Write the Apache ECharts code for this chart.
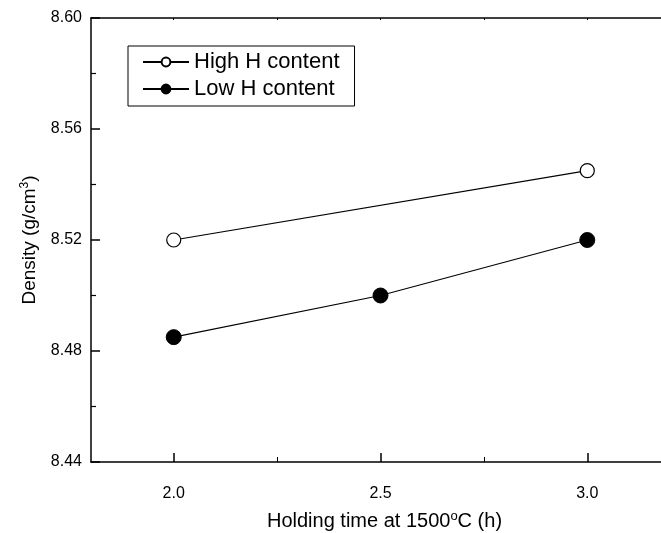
<!DOCTYPE html>
<html>
<head>
<meta charset="utf-8">
<script src="https://cdn.jsdelivr.net/npm/echarts@6/dist/echarts.min.js"></script>
<style>html,body{margin:0;padding:0;background:#fff;}#c{width:661px;height:533px;}</style>
</head>
<body>
<div id="c"></div>
<script>
var xMajorTicks = [2.0, 2.5, 3.0];
var xMinorTicks = [2.25, 2.75];
var highX = [2.0, 3.0];
var highY = [8.52, 8.545];
var lowX = [2.0, 2.5, 3.0];
var lowY = [8.485, 8.50, 8.52];
var seriesNames = ['High H content', 'Low H content'];

var chart = echarts.init(document.getElementById('c'), null, {renderer: 'canvas'});
var FONT = '"Liberation Sans", Arial, sans-serif';
function pairs(xs, ys) { return xs.map(function (x, i) { return [x, ys[i]]; }); }
var axisLine = {show: true, lineStyle: {color: '#000', width: 1.5}};

var option = {
  backgroundColor: '#fff',
  animation: false,
  grid: {left: 91, top: 18, bottom: 71, width: 579, containLabel: false, outerBoundsMode: 'none'},
  legend: {
    left: 128, top: 46,
    orient: 'vertical',
    data: seriesNames,
    itemWidth: 46, itemHeight: 11, itemGap: 5,
    padding: [5, 15, 6, 14],
    borderColor: '#000', borderWidth: 1,
    textStyle: {fontFamily: FONT, fontSize: 22, color: '#000'},
    inactiveColor: '#000'
  },
  xAxis: [
    {
      type: 'value', position: 'bottom', min: 1.8, max: 3.2,
      axisLine: axisLine,
      axisTick: {show: true, inside: true, length: 9, lineStyle: {color: '#000', width: 1.5}, customValues: xMajorTicks},
      axisLabel: {show: true, customValues: xMajorTicks, margin: 24, fontFamily: FONT, fontSize: 16, color: '#000',
        formatter: function (v) { return v.toFixed(1); }},
      splitLine: {show: false},
      name: 'Holding time at 1500{sup|o}C (h)', nameLocation: 'middle', nameGap: 48,
      nameTextStyle: {fontFamily: FONT, fontSize: 20, color: '#000', padding: [0, 0, 0, 8],
        rich: {sup: {fontFamily: FONT, fontSize: 13, color: '#000', verticalAlign: 'top', padding: [0, 0, 9, 0]}}}
    },
    {
      type: 'value', position: 'bottom', min: 1.8, max: 3.2,
      axisLine: {show: false},
      axisTick: {show: true, inside: true, length: 5, lineStyle: {color: '#000', width: 1}, customValues: xMinorTicks},
      axisLabel: {show: false}, splitLine: {show: false}
    },
    {
      type: 'value', position: 'top', min: 1.8, max: 3.2,
      axisLine: axisLine,
      axisTick: {show: true, inside: true, length: 2, lineStyle: {color: '#000', width: 1}, customValues: xMajorTicks.concat(xMinorTicks)},
      axisLabel: {show: false}, splitLine: {show: false}
    }
  ],
  yAxis: [
    {
      type: 'value', min: 8.44, max: 8.60, interval: 0.04,
      axisLine: axisLine,
      axisTick: {show: true, inside: true, length: 9, lineStyle: {color: '#000', width: 1.5}},
      minorTick: {show: true, splitNumber: 2, length: 5, lineStyle: {color: '#000', width: 1.2}},
      axisLabel: {margin: 9, fontFamily: FONT, fontSize: 16, color: '#000', formatter: function (v) { return v.toFixed(2); }},
      splitLine: {show: false},
      name: 'Density (g/cm{sup|3})', nameLocation: 'middle', nameGap: 51, nameRotate: 90,
      nameTextStyle: {fontFamily: FONT, fontSize: 19, color: '#000',
        rich: {sup: {fontFamily: FONT, fontSize: 12, color: '#000', verticalAlign: 'top', padding: [0, 0, 9, 0]}}}
    }
  ],
  series: [
    {
      name: seriesNames[0], type: 'line', xAxisIndex: 0,
      data: pairs(highX, highY),
      symbol: 'circle', symbolSize: 14,
      itemStyle: {color: '#fff', borderColor: '#000', borderWidth: 1.2},
      lineStyle: {color: '#000', width: 1.1}
    },
    {
      name: seriesNames[1], type: 'line', xAxisIndex: 0,
      data: pairs(lowX, lowY),
      symbol: 'circle', symbolSize: 15,
      itemStyle: {color: '#000', borderColor: '#000', borderWidth: 1},
      lineStyle: {color: '#000', width: 1.1}
    }
  ]
};
chart.setOption(option);
</script>
</body>
</html>
